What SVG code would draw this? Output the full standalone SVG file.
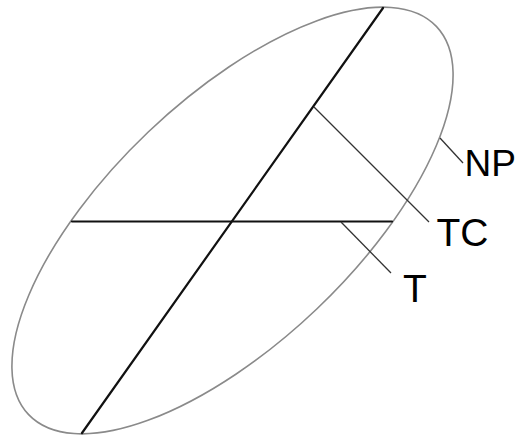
<svg xmlns="http://www.w3.org/2000/svg" width="517" height="437" viewBox="0 0 517 437">
<style>
.outline{fill:none;stroke:#8a8a8a;stroke-width:1.6}
.axis{fill:none;stroke:#111;stroke-width:2.2;stroke-linecap:round}
.leader{fill:none;stroke:#333;stroke-width:1.3}
.lbl{font-family:"Liberation Sans",Arial,sans-serif;font-size:39px;fill:#000}
</style>
<rect width="517" height="437" fill="#fff"/>
<g id="ellipse">
<ellipse class="outline" cx="232.5" cy="220.5" rx="281.5" ry="122.2" transform="rotate(-43.6 232.5 220.5)"/>
</g>
<g id="connectors">
<line class="axis" x1="383" y1="8" x2="82" y2="433"/>
<line class="axis" x1="72" y1="221.5" x2="392" y2="221.5"/>
<line class="leader" x1="314" y1="107" x2="429" y2="222"/>
<line class="leader" x1="341" y1="222" x2="391" y2="273"/>
<line class="leader" x1="440" y1="138" x2="463" y2="163"/>
</g>
<g id="label-NP"><text class="lbl" x="464.5" y="176" style="font-size:37px">NP</text></g>
<g id="label-TC"><text class="lbl" x="436.5" y="246">TC</text></g>
<g id="label-T"><text class="lbl" x="403" y="302">T</text></g>
</svg>
